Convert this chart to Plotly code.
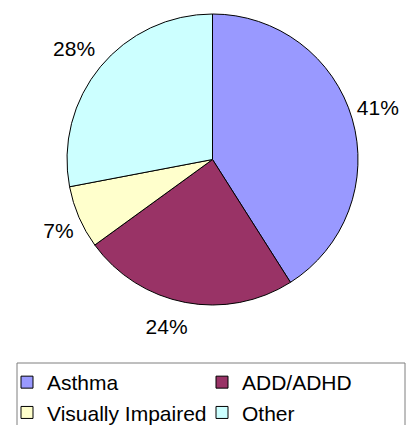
import plotly.graph_objects as go

categories = ["Asthma", "ADD/ADHD", "Visually Impaired", "Other"]
values = [41, 24, 7, 28]
colors = ["#9999FF", "#993366", "#FFFFCC", "#CCFFFF"]

W, H = 418, 425
FONT = "Liberation Sans, Arial, sans-serif"

# pie geometry (pixels)
CX, CY, R = 212.5, 159.5, 145.5

# label placement: two invisible label-carrying pies (same data), each showing
# the percentage text for some slices only
PCT = "%{percent:.0%}"
LABEL_SETS = [
    dict(show=[True, True, True, False], rot=-3.8, r=147.5, pull=[0.0, 0.063, 0.015, 0.0]),
    dict(show=[False, False, False, True], rot=3.8, r=153.7, pull=[0.0, 0.0, 0.0, 0.0]),
]


def dom(r):
    return dict(x=[(CX - r) / W, (CX + r) / W], y=[1 - (CY + r) / H, 1 - (CY - r) / H])


fig = go.Figure()

for ls in LABEL_SETS:
    fig.add_trace(go.Pie(
        labels=categories,
        values=values,
        sort=False,
        direction="clockwise",
        rotation=ls["rot"],
        pull=ls["pull"],
        marker=dict(colors=["rgba(0,0,0,0)"] * len(values), line=dict(width=0)),
        textposition="outside",
        texttemplate=[PCT if s else "" for s in ls["show"]],
        textfont=dict(family=FONT, size=21, color="black"),
        domain=dom(ls["r"] * (1 + max(ls["pull"]))),
        hoverinfo="skip",
        showlegend=False,
        automargin=False,
    ))

# visible pie
fig.add_trace(go.Pie(
    labels=categories,
    values=values,
    sort=False,
    direction="clockwise",
    rotation=0,
    marker=dict(colors=colors, line=dict(color="black", width=1)),
    textposition="none",
    domain=dom(R),
    hoverinfo="skip",
    automargin=False,
))

fig.update_layout(
    width=W, height=H,
    margin=dict(l=0, r=0, t=0, b=0, autoexpand=False),
    paper_bgcolor="white",
    plot_bgcolor="white",
    font=dict(family=FONT, size=21, color="black"),
    showlegend=True,
    legend=dict(
        orientation="h",
        x=7 / W, xanchor="left",
        y=1 - 362 / H, yanchor="top",
        entrywidth=150, entrywidthmode="pixels",
        bgcolor="rgba(0,0,0,0)",
        borderwidth=0,
        font=dict(family=FONT, size=21, color="black"),
        traceorder="normal",
    ),
    shapes=[dict(
        type="rect", xref="paper", yref="paper",
        x0=17 / W, x1=405 / W, y0=1 - 450 / H, y1=1 - 363 / H,
        line=dict(color="#7f7f7f", width=1), fillcolor="rgba(0,0,0,0)",
        layer="below",
    )],
)

fig.write_html(
    "out.html",
    config={"displayModeBar": False},
    post_script="document.body.style.margin='0';document.body.style.overflow='hidden';",
)
